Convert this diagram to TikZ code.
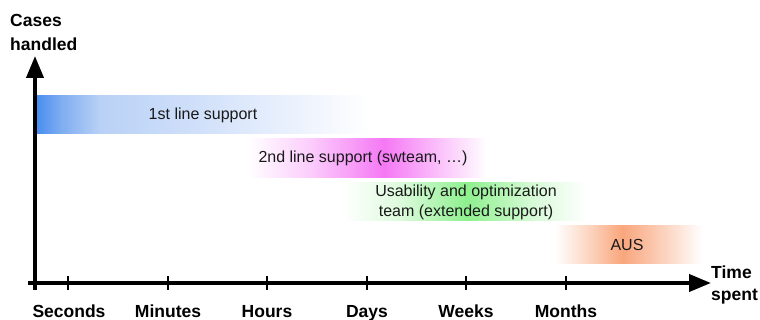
\documentclass[tikz,border=0pt]{standalone}
\usepackage{fontspec}
\setmainfont{Liberation Sans}
\usetikzlibrary{arrows.meta}
\definecolor{bA}{RGB}{74,142,240}
\definecolor{bB}{RGB}{125,172,240}
\definecolor{bC}{RGB}{185,209,246}
\definecolor{bD}{RGB}{210,225,250}
\definecolor{bE}{RGB}{234,241,253}
\definecolor{mA}{RGB}{251,205,251}
\definecolor{mB}{RGB}{245,120,245}
\definecolor{mC}{RGB}{251,200,251}
\definecolor{gA}{RGB}{220,250,220}
\definecolor{gB}{RGB}{142,240,142}
\definecolor{gC}{RGB}{215,250,215}
\definecolor{oA}{RGB}{252,215,195}
\definecolor{oB}{RGB}{249,166,124}
\definecolor{oC}{RGB}{252,210,190}
\definecolor{txt}{RGB}{25,25,25}
\pgfdeclarehorizontalshading{blueshade}{100bp}{color(0bp)=(bA); color(25bp)=(bA); color(28.5bp)=(bB); color(34.5bp)=(bC); color(50bp)=(bD); color(63bp)=(bE); color(75bp)=(white); color(100bp)=(white)}
\pgfdeclarehorizontalshading{magshade}{100bp}{color(0bp)=(white); color(25bp)=(white); color(38bp)=(mA); color(53.5bp)=(mB); color(66bp)=(mC); color(75bp)=(white); color(100bp)=(white)}
\pgfdeclarehorizontalshading{grnshade}{100bp}{color(0bp)=(white); color(25bp)=(white); color(37bp)=(gA); color(50.5bp)=(gB); color(64bp)=(gC); color(75bp)=(white); color(100bp)=(white)}
\pgfdeclarehorizontalshading{orgshade}{100bp}{color(0bp)=(white); color(25bp)=(white); color(36bp)=(oA); color(48bp)=(oB); color(62bp)=(oC); color(75bp)=(white); color(100bp)=(white)}
\tikzset{
  axisline/.style={line width=4pt, -{Triangle[length=22pt,width=17pt]}},
  tickline/.style={line width=1.5pt},
  axlabel/.style={font=\bfseries\fontsize{17.5}{24}\selectfont, text=black, inner sep=0pt},
  barlabel/.style={font=\fontsize{16}{20}\selectfont, text=txt, inner sep=0pt, align=center},
  bar/.style={draw=none}
}
\begin{document}
\begin{tikzpicture}[x=1pt,y=-1pt]
\useasboundingbox (0,0) rectangle (760,320);
% bars
\shade[bar, shading=blueshade] (37,96) rectangle (370,134);
\shade[bar, shading=magshade] (248,139) rectangle (487,178);
\shade[bar, shading=grnshade] (343,183) rectangle (586,221);
\shade[bar, shading=orgshade] (555,226) rectangle (702,264);
\node[barlabel] (l1) at (203,115) {1st line support};
\node[barlabel] (l2) at (363,158) {2nd line support (swteam, …)};
\node[barlabel] (l3) at (466,202.5) {Usability and optimization\\team (extended support)};
\node[barlabel] (l4) at (627,245) {AUS};
% axes
\coordinate (yb) at (35,290);
\coordinate (yt) at (35,56);
\coordinate (xl) at (28,283);
\coordinate (xr) at (711,283);
\draw[axisline] (yb) -- (yt);
\draw[axisline] (xl) -- (xr);
% ticks
\foreach \n/\x in {s/68,m/168,h/267,d/367,w/466,mo/566}{
  \coordinate (t\n a) at (\x,276);
  \coordinate (t\n b) at (\x,290);
  \draw[tickline] (t\n a) -- (t\n b);
}
% labels
\node[axlabel, anchor=west] (ch) at (10,34) {\begin{tabular}{@{}l@{}}Cases\\[0pt]handled\end{tabular}};
\node[axlabel, anchor=west] (ts) at (711,285) {\begin{tabular}{@{}l@{}}Time\\[-2pt]spent\end{tabular}};
\node[axlabel, anchor=base] (sec) at (69,317) {Seconds};
\node[axlabel, anchor=base] (min) at (168,317) {Minutes};
\node[axlabel, anchor=base] (hrs) at (267,317) {Hours};
\node[axlabel, anchor=base] (day) at (367,317) {Days};
\node[axlabel, anchor=base] (wks) at (466,317) {Weeks};
\node[axlabel, anchor=base] (mon) at (566,317) {Months};
\end{tikzpicture}
\end{document}
